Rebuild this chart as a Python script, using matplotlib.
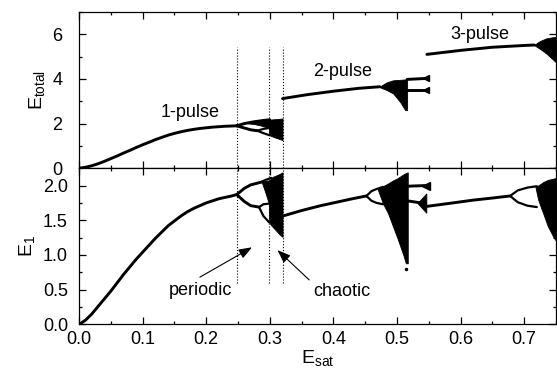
import numpy as np
import matplotlib
matplotlib.use("Agg")
import matplotlib.pyplot as plt
from matplotlib.ticker import MultipleLocator, FormatStrFormatter

plt.rcParams["font.family"] = ["Liberation Sans", "DejaVu Sans"]
plt.rcParams["mathtext.fontset"] = "custom"
plt.rcParams["mathtext.rm"] = "Liberation Sans"
plt.rcParams["mathtext.it"] = "Liberation Sans:italic"

# ---- 1-pulse regime ----
x_p1 = [0, 0.01, 0.02, 0.03, 0.04, 0.05, 0.06, 0.07, 0.08, 0.09, 0.1, 0.11, 0.12,
        0.13, 0.14, 0.15, 0.16, 0.17, 0.18, 0.19, 0.2, 0.21, 0.22, 0.23, 0.24, 0.248]
etot_p1 = [0, 0.04, 0.11, 0.20, 0.31, 0.43, 0.55, 0.68, 0.80, 0.93, 1.05, 1.16, 1.28,
           1.38, 1.48, 1.56, 1.63, 1.69, 1.74, 1.78, 1.81, 1.84, 1.86, 1.88, 1.89, 1.90]
e1_p1 = [0, 0.06, 0.15, 0.26, 0.37, 0.48, 0.60, 0.72, 0.83, 0.94, 1.04, 1.14, 1.24,
         1.33, 1.42, 1.49, 1.56, 1.62, 1.67, 1.71, 1.75, 1.78, 1.81, 1.83, 1.85, 1.87]

# period-2 branches
x_p2_up_t = [0.248, 0.26, 0.275, 0.29, 0.30]
etot_p2_up = [1.90, 2.00, 2.08, 2.14, 2.17]
x_p2_lo_t = [0.248, 0.26, 0.27, 0.28]
etot_p2_lo = [1.90, 1.80, 1.72, 1.68]
x_p2_b = [0.248, 0.26, 0.27, 0.283]
e1_p2_up = [1.87, 1.96, 2.01, 2.04]
e1_p2_lo = [1.87, 1.77, 1.71, 1.69]

# period-4 bubbles
x_p4_t = [0.28, 0.29, 0.299]
etot_p4_up = [1.68, 1.76, 1.80]
etot_p4_lo = [1.68, 1.57, 1.48]
x_p4_b = [0.283, 0.29, 0.299]
e1_p4_up = [1.69, 1.73, 1.74]
e1_p4_lo = [1.69, 1.56, 1.47]
x_p4u_b = [0.283, 0.293, 0.302]
e1_p4u_up = [2.04, 2.08, 2.11]
e1_p4u_lo = [2.04, 2.05, 2.06]

# chaotic band
x_ch1_t = [0.265, 0.275, 0.285, 0.2985, 0.299, 0.305, 0.31, 0.315, 0.32]
etot_ch1_hi = [2.03, 2.08, 2.12, 2.17, 2.17, 2.19, 2.20, 2.21, 2.23]
etot_ch1_lo = [2.01, 1.98, 1.92, 1.80, 1.48, 1.41, 1.36, 1.31, 1.26]
x_ch1_b = [0.288, 0.293, 0.2985, 0.299, 0.302, 0.306, 0.31, 0.315, 0.32]
e1_ch1_hi = [2.045, 2.05, 2.06, 2.06, 2.11, 2.13, 2.145, 2.165, 2.19]
e1_ch1_lo = [2.03, 1.90, 1.74, 1.47, 1.43, 1.39, 1.35, 1.30, 1.26]

# ---- 2-pulse regime ----
x_2p_t = [0.32, 0.36, 0.40, 0.44, 0.473]
etot_2p = [3.12, 3.30, 3.45, 3.58, 3.65]
x_ch2_t = [0.473, 0.484, 0.494, 0.505, 0.513, 0.516]
etot_ch2_hi = [3.66, 3.85, 3.94, 3.96, 3.98, 3.99]
etot_ch2_lo = [3.63, 3.50, 3.35, 2.97, 2.60, 2.60]

x_2p_b = [0.32, 0.35, 0.38, 0.41, 0.43, 0.452]
e1_2p = [1.56, 1.64, 1.71, 1.77, 1.81, 1.85]
x_2p_bub = [0.452, 0.46, 0.468, 0.478]
e1_2p_bub_up = [1.85, 1.92, 1.95, 1.98]
e1_2p_bub_lo = [1.85, 1.78, 1.75, 1.73]
x_ch2_b = [0.47, 0.478, 0.486, 0.495, 0.50, 0.505, 0.51, 0.514, 0.517]
e1_ch2_hi = [1.95, 1.99, 2.03, 2.08, 2.10, 2.13, 2.16, 2.18, 2.19]
e1_ch2_lo = [1.94, 1.74, 1.60, 1.38, 1.26, 1.13, 1.00, 0.88, 0.88]
x_dot, e1_dot = 0.514, 0.80

# periodic window after the 2-pulse chaos
x_win = [0.516, 0.545]
etot_win_up = [3.98, 4.02]
etot_win_lo = [3.52, 3.52]
e1_win_up = [1.99, 2.00]
e1_win_lo = [1.78, 1.74]
x_tri = [0.533, 0.547, 0.547]
e1_tri = [1.74, 1.88, 1.60]

# ---- 3-pulse regime ----
x_3p_t = [0.547, 0.60, 0.65, 0.70, 0.716]
etot_3p = [5.10, 5.28, 5.42, 5.50, 5.52]
x_ch3_t = [0.716, 0.725, 0.735, 0.745, 0.752]
etot_ch3_hi = [5.53, 5.70, 5.82, 5.87, 5.89]
etot_ch3_lo = [5.51, 5.35, 5.14, 4.88, 4.70]

x_3p_b = [0.547, 0.58, 0.62, 0.65, 0.678]
e1_3p = [1.70, 1.74, 1.79, 1.82, 1.85]
x_3p_bub = [0.678, 0.69, 0.705, 0.72]
e1_3p_bub_up = [1.85, 1.93, 1.97, 1.99]
e1_3p_bub_lo = [1.85, 1.76, 1.71, 1.69]
x_ch3_b = [0.718, 0.722, 0.727, 0.73, 0.737, 0.746, 0.752]
e1_ch3_hi = [1.98, 2.00, 2.03, 2.05, 2.08, 2.10, 2.11]
e1_ch3_lo = [1.97, 1.80, 1.67, 1.60, 1.42, 1.26, 1.18]

x_marks = [0.248, 0.299, 0.32]

LW = 2.1
LWB = 1.6

fig, (ax1, ax2) = plt.subplots(2, 1, sharex=True, figsize=(5.57, 3.75), dpi=100)
fig.subplots_adjust(left=0.142, right=0.998, bottom=0.135, top=0.968, hspace=0)


def line(ax, x, y, lw=LW):
    ax.plot(x, y, color="k", lw=lw, solid_capstyle="round", solid_joinstyle="round")


def band(ax, x, lo, hi):
    ax.fill_between(x, lo, hi, color="k", lw=0.6, edgecolor="k")


# top panel: total energy
line(ax1, x_p1, etot_p1)
line(ax1, x_p2_up_t, etot_p2_up)
line(ax1, x_p2_lo_t, etot_p2_lo)
line(ax1, x_p4_t, etot_p4_up, LWB)
line(ax1, x_p4_t, etot_p4_lo, LWB)
band(ax1, x_ch1_t, etot_ch1_lo, etot_ch1_hi)
line(ax1, x_2p_t, etot_2p)
band(ax1, x_ch2_t, etot_ch2_lo, etot_ch2_hi)
line(ax1, x_win, etot_win_up)
line(ax1, x_win, etot_win_lo)
ax1.plot([x_win[1]], [etot_win_up[1]], marker="<", ms=5, color="k")
ax1.plot([x_win[1]], [etot_win_lo[1]], marker="<", ms=5, color="k")
line(ax1, x_3p_t, etot_3p)
band(ax1, x_ch3_t, etot_ch3_lo, etot_ch3_hi)

# bottom panel: first pulse energy
line(ax2, x_p1, e1_p1)
line(ax2, x_p2_b, e1_p2_up)
line(ax2, x_p2_b, e1_p2_lo)
line(ax2, x_p4_b, e1_p4_up, LWB)
line(ax2, x_p4_b, e1_p4_lo, LWB)
line(ax2, x_p4u_b, e1_p4u_up, LWB)
line(ax2, x_p4u_b, e1_p4u_lo, LWB)
band(ax2, x_ch1_b, e1_ch1_lo, e1_ch1_hi)
line(ax2, x_2p_b, e1_2p)
line(ax2, x_2p_bub, e1_2p_bub_up, LWB)
line(ax2, x_2p_bub, e1_2p_bub_lo, LWB)
band(ax2, x_ch2_b, e1_ch2_lo, e1_ch2_hi)
ax2.plot([x_dot], [e1_dot], "k.", ms=3)
line(ax2, x_win, e1_win_up)
line(ax2, x_win, e1_win_lo)
ax2.plot([x_win[1]], [e1_win_up[1]], marker="<", ms=6, color="k")
ax2.fill(x_tri, e1_tri, color="k", lw=0.6)
line(ax2, x_3p_b, e1_3p)
line(ax2, x_3p_bub, e1_3p_bub_up, LWB)
line(ax2, x_3p_bub, e1_3p_bub_lo, LWB)
band(ax2, x_ch3_b, e1_ch3_lo, e1_ch3_hi)

# dotted markers across both panels
for xm in x_marks:
    ax1.plot([xm, xm], [0, 5.45], color="k", ls=":", lw=0.8)
    ax2.plot([xm, xm], [0.6, 2.25], color="k", ls=":", lw=0.8)

ax1.text(0.175, 2.5, "1-pulse", fontsize=13, ha="center", va="center")
ax1.text(0.415, 4.35, "2-pulse", fontsize=13, ha="center", va="center")
ax1.text(0.63, 6.0, "3-pulse", fontsize=13, ha="center", va="center")

ax2.text(0.191, 0.49, "periodic", fontsize=13, ha="center", va="center")
ax2.text(0.414, 0.47, "chaotic", fontsize=13, ha="center", va="center")
arr = dict(arrowstyle="-|>,head_length=0.8,head_width=0.3", lw=0.8, color="k",
           shrinkA=0, shrinkB=0)
ax2.annotate("", xy=(0.272, 1.11), xytext=(0.19, 0.68), arrowprops=arr)
ax2.annotate("", xy=(0.312, 1.07), xytext=(0.362, 0.64), arrowprops=arr)

ax1.set_xlim(0, 0.75)
ax1.set_ylim(0, 7)
ax2.set_ylim(0, 2.25)
ax1.yaxis.set_major_locator(MultipleLocator(2))
ax1.yaxis.set_minor_locator(MultipleLocator(1))
ax2.yaxis.set_major_locator(MultipleLocator(0.5))
ax2.yaxis.set_minor_locator(MultipleLocator(0.25))
ax2.xaxis.set_major_locator(MultipleLocator(0.1))
ax2.xaxis.set_minor_locator(MultipleLocator(0.05))
ax2.xaxis.set_major_formatter(FormatStrFormatter("%.1f"))
ax2.yaxis.set_major_formatter(FormatStrFormatter("%.1f"))

for ax in (ax1, ax2):
    for s in ax.spines.values():
        s.set_linewidth(0.9)
    ax.tick_params(which="both", direction="in", top=True, right=True, width=0.9,
                   labelsize=13)
    ax.tick_params(which="major", length=5)
    ax.tick_params(which="minor", length=2.5)
ax1.tick_params(axis="y", pad=12)
ax2.tick_params(axis="y", pad=8)
ax2.tick_params(axis="x", pad=5)

ax1.set_ylabel(r"E$_{\mathrm{total}}$", fontsize=14, labelpad=4)
ax2.set_ylabel(r"E$_{\mathrm{1}}$", fontsize=14, labelpad=4)
ax2.set_xlabel(r"E$_{\mathrm{sat}}$", fontsize=14, labelpad=0)

fig.savefig("out.png", dpi=100)
